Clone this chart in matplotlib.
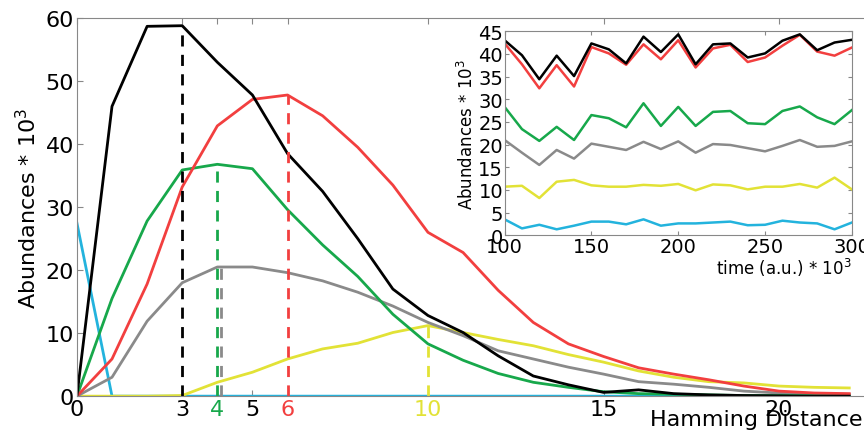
import numpy as np
import matplotlib.pyplot as plt

# main panel: abundance vs hamming distance (x = 0..22)
hamming = np.arange(23)
black = [0, 46, 58.7, 58.8, 53, 47.8, 38.5, 32.5, 25, 17, 12.8, 10.1, 6.4, 3.2,
         1.8, 0.6, 1.0, 0.4, 0.2, 0.1, 0.05, 0, 0]
red = [0, 5.9, 17.8, 33.2, 42.9, 47.1, 47.8, 44.5, 39.5, 33.5, 26, 22.8, 16.8, 11.7,
       8.3, 6.3, 4.5, 3.5, 2.6, 1.6, 0.8, 0.5, 0.4]
green = [0, 15.5, 27.8, 35.9, 36.8, 36.1, 29.6, 24, 19, 13, 8.3, 5.7, 3.6, 2.2,
         1.4, 0.7, 0.4, 0.3, 0.2, 0.1, 0.1, 0.05, 0]
gray = [0, 3.0, 11.9, 18.0, 20.5, 20.5, 19.6, 18.3, 16.5, 14.3, 11.7, 9.6, 7.2, 5.9,
        4.6, 3.5, 2.3, 1.9, 1.4, 0.8, 0.5, 0.4, 0.3]
yellow = [0, 0, 0, 0.1, 2.2, 3.8, 5.9, 7.5, 8.4, 10.1, 11.2, 10.1, 9.0, 8.0,
          6.6, 5.4, 4.0, 3.0, 2.3, 2.1, 1.6, 1.4, 1.3]
cyan = [27.5, 0, 0, 0, 0, 0, 0, 0, 0, 0, 0, 0, 0, 0, 0, 0, 0, 0, 0, 0, 0, 0, 0]

# peak markers (x position, height)
peak_x = [3, 4, 4.1, 6, 10]
peak_y = [58.8, 36.8, 20.5, 47.8, 11.2]

xticks = [0, 3, 4, 5, 6, 10, 15, 20]

# inset: abundance over time
time = np.arange(100, 301, 10)
in_black = [43.0, 39.7, 34.4, 39.6, 35.1, 42.3, 41.0, 37.9, 43.8, 40.4, 44.3,
            37.7, 42.1, 42.3, 39.2, 40.1, 42.9, 44.3, 40.8, 42.5, 43.1]
in_red = [42.3, 37.7, 32.4, 37.5, 32.8, 41.5, 40.1, 37.6, 42.1, 38.8, 43.0,
          37.0, 41.2, 42.0, 38.2, 39.2, 41.8, 44.2, 40.5, 39.6, 41.4]
in_green = [28.3, 23.4, 20.8, 23.9, 21.0, 26.5, 25.8, 23.8, 29.1, 24.1, 28.3,
            24.1, 27.2, 27.4, 24.7, 24.5, 27.4, 28.4, 26.0, 24.5, 27.6]
in_gray = [21.0, 18.2, 15.5, 18.8, 16.9, 20.2, 19.5, 18.8, 20.6, 19.0, 20.7,
           18.2, 20.1, 19.9, 19.2, 18.5, 19.7, 21.0, 19.5, 19.7, 20.7]
in_yellow = [10.7, 10.9, 8.2, 11.8, 12.2, 11.0, 10.7, 10.7, 11.1, 10.9, 11.3,
             9.9, 11.2, 11.0, 10.1, 10.7, 10.7, 11.3, 10.5, 12.7, 10.1]
in_cyan = [3.5, 1.5, 2.3, 1.3, 2.1, 3.0, 3.0, 2.4, 3.5, 2.1, 2.6,
           2.6, 2.8, 3.0, 2.2, 2.3, 3.2, 2.8, 2.6, 1.3, 2.8]

C_BLACK = "#000000"
C_RED = "#f23f3f"
C_GREEN = "#17a84b"
C_GRAY = "#8a8a8a"
C_YELLOW = "#e2e236"
C_CYAN = "#23b3dd"
FRAME = "#888888"

fig = plt.figure(figsize=(8.64, 4.35), dpi=100)

ax = fig.add_axes([0.089, 0.087, 0.911, 0.869])
lw = 2.0
ax.plot(hamming, cyan, color=C_CYAN, lw=lw)
ax.plot(hamming, yellow, color=C_YELLOW, lw=lw)
ax.plot(hamming, gray, color=C_GRAY, lw=lw)
ax.plot(hamming, green, color=C_GREEN, lw=lw)
ax.plot(hamming, red, color=C_RED, lw=lw)
ax.plot(hamming, black, color=C_BLACK, lw=lw)

peak_colors = [C_BLACK, C_GREEN, C_GRAY, C_RED, C_YELLOW]
for px, py, c in zip(peak_x, peak_y, peak_colors):
    ax.vlines(px, 0, py, colors=c, linestyles=(0, (4, 3)), lw=lw)

ax.set_xlim(0, 22.42)
ax.set_ylim(0, 60)
ax.set_xticks(xticks)
ax.set_xticklabels([str(t) for t in xticks])
tick_colors = {3: C_BLACK, 4: C_GREEN, 6: C_RED, 10: C_YELLOW}
for t, lab in zip(xticks, ax.get_xticklabels()):
    lab.set_color(tick_colors.get(t, "black"))
ax.set_yticks(range(0, 61, 10))
ax.tick_params(direction="in", top=True, right=False, labelsize=16,
               color=FRAME, length=4, pad=2)
for side in ["left", "top", "bottom"]:
    ax.spines[side].set_color(FRAME)
ax.spines["right"].set_visible(False)
ax.set_ylabel("Abundances * 10$^3$", fontsize=16, labelpad=4)
fig.text(0.998, 0.034, "Hamming Distance", fontsize=16, ha="right", va="center")

# inset
ins = fig.add_axes([0.584, 0.457, 0.402, 0.469], facecolor="white")
ilw = 1.8
ins.plot(time, in_cyan, color=C_CYAN, lw=ilw)
ins.plot(time, in_yellow, color=C_YELLOW, lw=ilw)
ins.plot(time, in_gray, color=C_GRAY, lw=ilw)
ins.plot(time, in_green, color=C_GREEN, lw=ilw)
ins.plot(time, in_red, color=C_RED, lw=ilw)
ins.plot(time, in_black, color=C_BLACK, lw=ilw)
ins.set_xlim(100, 300)
ins.set_ylim(0, 45)
ins.set_xticks(range(100, 301, 50))
ins.set_yticks(range(0, 46, 5))
ins.tick_params(direction="in", top=True, right=True, labelsize=14,
                color=FRAME, length=3, pad=1)
for s in ins.spines.values():
    s.set_color(FRAME)
ins.set_ylabel("Abundances * 10$^3$", fontsize=12, labelpad=1)
ins.set_xlabel("time (a.u.) * 10$^3$", fontsize=12, labelpad=0)
ins.xaxis.set_label_coords(1.0, -0.1)
ins.xaxis.label.set_horizontalalignment("right")

fig.savefig("out.png", dpi=100)
